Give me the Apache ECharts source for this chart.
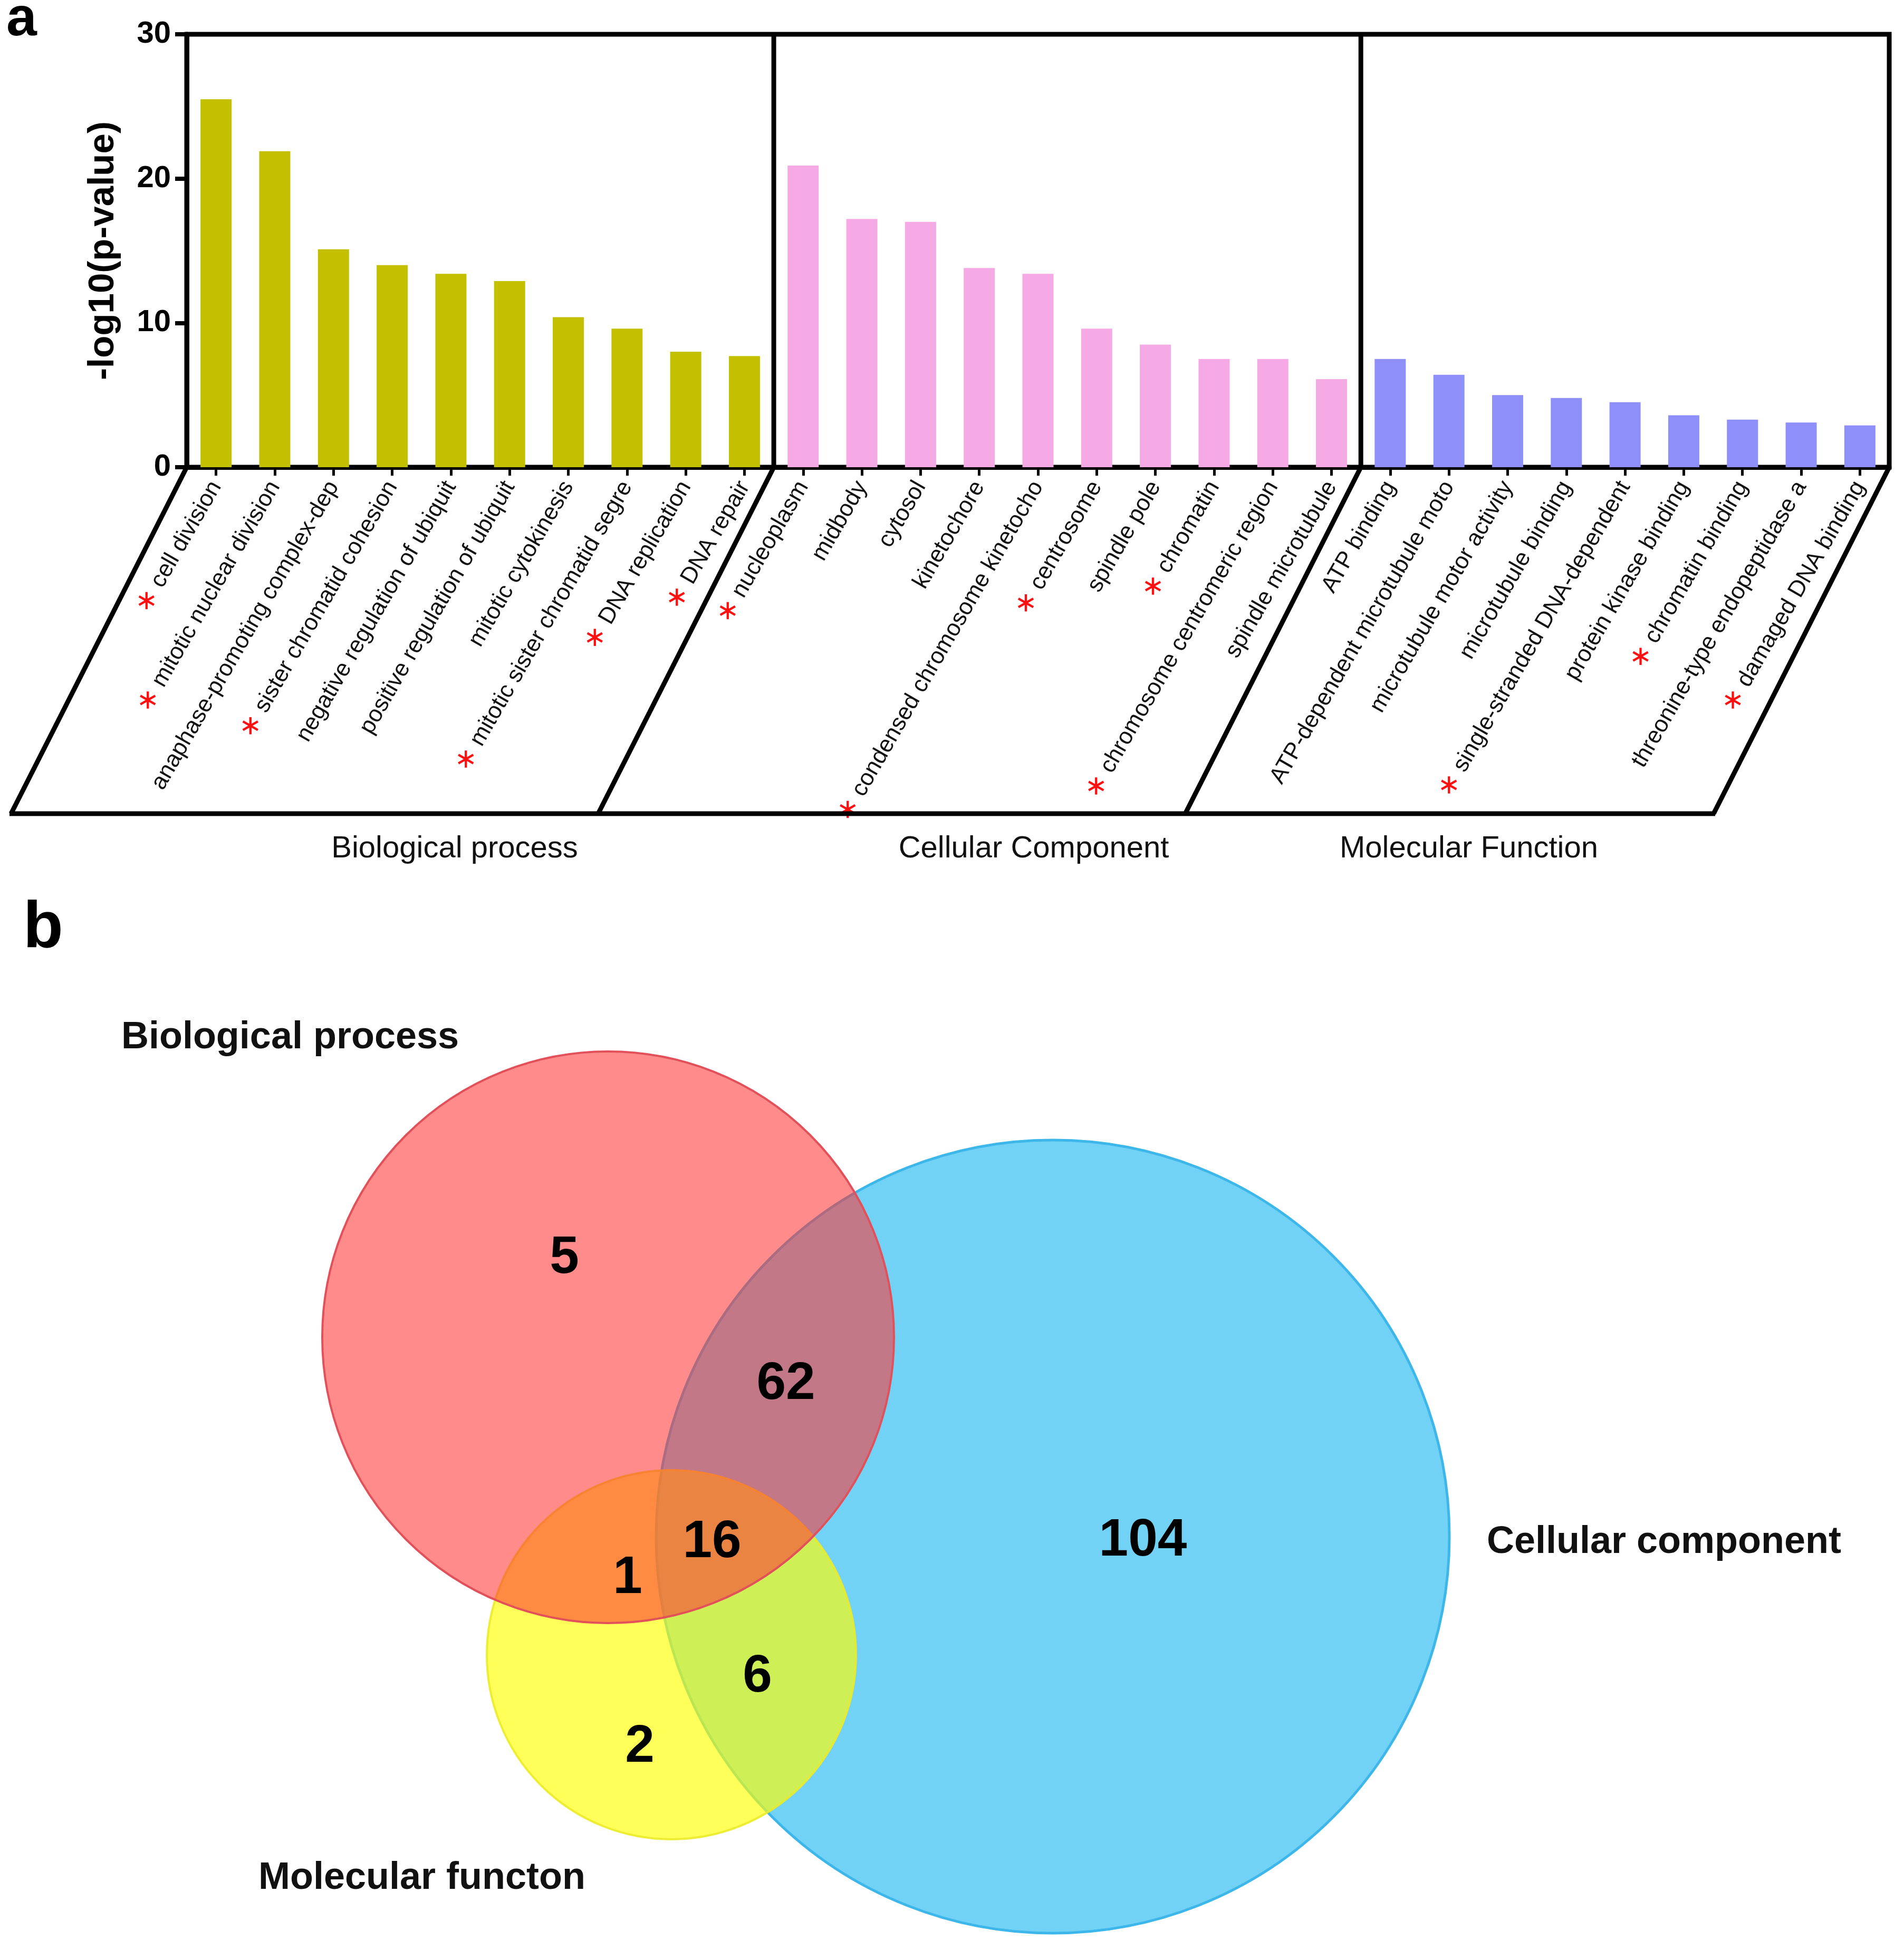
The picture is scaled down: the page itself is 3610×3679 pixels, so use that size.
<!DOCTYPE html>
<html><head><meta charset="utf-8">
<script src="https://cdn.jsdelivr.net/npm/echarts@6/dist/echarts.min.js"></script>
<style>html,body{margin:0;padding:0;background:#fff}#c{width:3610px;height:3679px}</style>
</head><body><div id="c"></div>
<script>
// ---------- Panel a data ----------
const bpCats = ['cell division','mitotic nuclear division','anaphase-promoting complex-dep','sister chromatid cohesion','negative regulation of ubiquit','positive regulation of ubiquit','mitotic cytokinesis','mitotic sister chromatid segre','DNA replication','DNA repair'];
const bpVals = [25.5, 21.9, 15.1, 14.0, 13.4, 12.9, 10.4, 9.6, 8.0, 7.7];
const bpStar = [1,1,0,1,0,0,0,1,1,1];

const ccCats = ['nucleoplasm','midbody','cytosol','kinetochore','condensed chromosome kinetocho','centrosome','spindle pole','chromatin','chromosome centromeric region','spindle microtubule'];
const ccVals = [20.9, 17.2, 17.0, 13.8, 13.4, 9.6, 8.5, 7.5, 7.5, 6.1];
const ccStar = [1,0,0,0,1,1,0,1,1,0];

const mfCats = ['ATP binding','ATP-dependent microtubule moto','microtubule motor activity','microtubule binding','single-stranded DNA-dependent','protein kinase binding','chromatin binding','threonine-type endopeptidase a','damaged DNA binding'];
const mfVals = [7.5, 6.4, 5.0, 4.8, 4.5, 3.6, 3.3, 3.1, 2.9];
const mfStar = [0,0,0,0,1,0,1,0,1];

const groupNames = ['Biological process','Cellular Component','Molecular Function'];

// ---------- Panel b data ----------
const vennSetNames = ['Biological process','Cellular component','Molecular functon'];
const vennRegions = ['BP only','BP & CC','BP & CC & MF','BP & MF','CC only','CC & MF','MF only'];
const vennCounts = [5, 62, 16, 1, 104, 6, 2];

// ---------- layout (not data) ----------
const vennCircleLayout = { CC:[199.6,121.4,75.2], MF:[127.3,143.8,35.0], BP:[115.3,83.6,54.2] };
const vennCircleStyle = {
  CC:{fill:'#72D2F5', stroke:'#3DB7EA', lw:5},
  MF:{fill:'rgba(255,255,0,0.65)', stroke:'rgba(235,235,40,0.9)', lw:4},
  BP:{fill:'rgba(255,51,51,0.57)', stroke:'#E2505A', lw:4}
};
const vennCountPos = [[107.0,68.6],[149.0,92.5],[135.0,122.5],[119.0,129.3],[216.7,122.2],[143.6,148.0],[121.3,161.3]];
const vennNamePos = [[55.0,26.8],[315.5,122.5],[80.0,186.2]];

const cats = bpCats.concat(ccCats, mfCats);
const stars = bpStar.concat(ccStar, mfStar);
const N = cats.length;
function place(vals, off){ const a = new Array(N).fill('-'); vals.forEach((v,i)=>{a[off+i]=v;}); return a; }

const FONT = 'Liberation Sans, Arial, sans-serif';
const chart = echarts.init(document.getElementById('c'), null, {renderer:'canvas'});

const option = {
  backgroundColor:'#ffffff',
  animation:false,
  grid:[
    {left:354, top:65, right:28, height:821, show:true, borderColor:'#000', borderWidth:9, backgroundColor:'transparent', containLabel:false, outerBoundsMode:'none'},
    {left:0, top:1700, width:3610, height:1979, containLabel:false, outerBoundsMode:'none'}
  ],
  xAxis:[
    {type:'category', gridIndex:0, data:cats, boundaryGap:true,
     axisLine:{show:true, lineStyle:{color:'#000', width:9}},
     axisTick:{show:true, alignWithLabel:true, length:16, lineStyle:{color:'#000', width:5}},
     splitLine:{show:false},
     axisLabel:{interval:0, rotate:60, margin:30, hideOverlap:false, color:'#111', fontFamily:FONT, fontSize:44,
       formatter:(v, i)=> stars[i] ? '{s|\u2217} {t|'+v+'}' : '{t|'+v+'}',
       rich:{ s:{color:'#FF1010', fontSize:52, fontFamily:'DejaVu Sans, sans-serif'}, t:{color:'#111', fontSize:44, fontFamily:FONT} }
     }},
    {type:'value', gridIndex:1, min:0, max:361, show:false}
  ],
  yAxis:[
    {type:'value', gridIndex:0, min:0, max:30, interval:10,
     name:'-log10(p-value)', nameLocation:'middle', nameRotate:90, nameGap:124,
     nameTextStyle:{color:'#000', fontWeight:'bold', fontSize:69, fontFamily:FONT},
     axisLine:{show:true, lineStyle:{color:'#000', width:9}},
     axisTick:{show:true, length:22, lineStyle:{color:'#000', width:8}},
     splitLine:{show:false},
     axisLabel:{color:'#000', fontWeight:'bold', fontSize:58, fontFamily:FONT, margin:30}},
    {type:'value', gridIndex:1, min:0, max:197.9, inverse:true, show:false}
  ],
  series:[
    {type:'bar', name:groupNames[0], stack:'g', barWidth:59, data:place(bpVals,0), itemStyle:{color:'#C2C000'}, xAxisIndex:0, yAxisIndex:0},
    {type:'bar', name:groupNames[1], stack:'g', barWidth:59, data:place(ccVals,bpCats.length), itemStyle:{color:'#F5A9E5'}, xAxisIndex:0, yAxisIndex:0},
    {type:'bar', name:groupNames[2], stack:'g', barWidth:59, data:place(mfVals,bpCats.length+ccCats.length), itemStyle:{color:'#8F8FFA'}, xAxisIndex:0, yAxisIndex:0},
    {type:'custom', name:'venn', xAxisIndex:1, yAxisIndex:1, clip:false, silent:true,
     data:['CC','MF','BP'].map(k=>({name:k, value:vennCircleLayout[k]})),
     renderItem:(params, api)=>{
       const key = ['CC','MF','BP'][params.dataIndex];
       const st = vennCircleStyle[key];
       const c = api.coord([api.value(0), api.value(1)]);
       const r = api.size([api.value(2), 0])[0];
       return {type:'circle', shape:{cx:c[0], cy:c[1], r:r}, style:{fill:st.fill, stroke:st.stroke, lineWidth:st.lw}};
     }},
    {type:'scatter', name:'counts', xAxisIndex:1, yAxisIndex:1, symbolSize:0, silent:true, z:5,
     itemStyle:{opacity:1},
     data:vennCounts.map((c,i)=>({name:vennRegions[i], value:[vennCountPos[i][0], vennCountPos[i][1], c]})),
     label:{show:true, position:'inside', opacity:1, formatter:p=>String(p.value[2]), color:'#000', fontWeight:'bold', fontSize:100, fontFamily:FONT}},
    {type:'scatter', name:'setNames', xAxisIndex:1, yAxisIndex:1, symbolSize:0, silent:true, z:5,
     itemStyle:{opacity:1},
     data:vennSetNames.map((s,i)=>({name:s, value:[vennNamePos[i][0], vennNamePos[i][1]]})),
     label:{show:true, position:'inside', opacity:1, formatter:p=>p.name, color:'#111', fontWeight:'bold', fontSize:72, fontFamily:FONT}}
  ]
};
chart.setOption(option);

// ---------- frame lines derived from axis scales ----------
const cx0 = chart.convertToPixel({xAxisIndex:0}, 0);
const cx1 = chart.convertToPixel({xAxisIndex:0}, 1);
const band = cx1 - cx0;
const bound = k => cx0 - band/2 + k*band;
const y0 = chart.convertToPixel({yAxisIndex:0}, 0);
const yTop = chart.convertToPixel({yAxisIndex:0}, 30);
const DEPTH = 657, SHEAR = 333, LW = 9;
const splits = [0, bpCats.length, bpCats.length+ccCats.length, N];
const g = [];
splits.forEach((k, j)=>{
  const bx = bound(k);
  if (j>0 && j<splits.length-1) g.push({type:'line', shape:{x1:bx, y1:yTop, x2:bx, y2:y0}, style:{stroke:'#000', lineWidth:LW}, z:10});
  g.push({type:'line', shape:{x1:bx, y1:y0, x2:bx-SHEAR, y2:y0+DEPTH}, style:{stroke:'#000', lineWidth:LW}, z:10});
});
g.push({type:'line', shape:{x1:bound(0)-SHEAR-3, y1:y0+DEPTH, x2:bound(N)-SHEAR+3, y2:y0+DEPTH}, style:{stroke:'#000', lineWidth:LW}, z:10});
const nameX = [862, 1960, 2785];
groupNames.forEach((t,i)=>g.push({type:'text', x:nameX[i], y:1610, style:{text:t, fill:'#111', font:'58px '+FONT, textAlign:'center', textVerticalAlign:'middle', align:'center', verticalAlign:'middle'}}));
g.push({type:'text', x:12, y:38, style:{text:'a', fill:'#000', font:'bold 104px '+FONT, verticalAlign:'middle', textVerticalAlign:'middle'}});
g.push({type:'text', x:44, y:1762, style:{text:'b', fill:'#000', font:'bold 124px '+FONT, verticalAlign:'middle', textVerticalAlign:'middle'}});
chart.setOption({graphic:g});
</script></body></html>
